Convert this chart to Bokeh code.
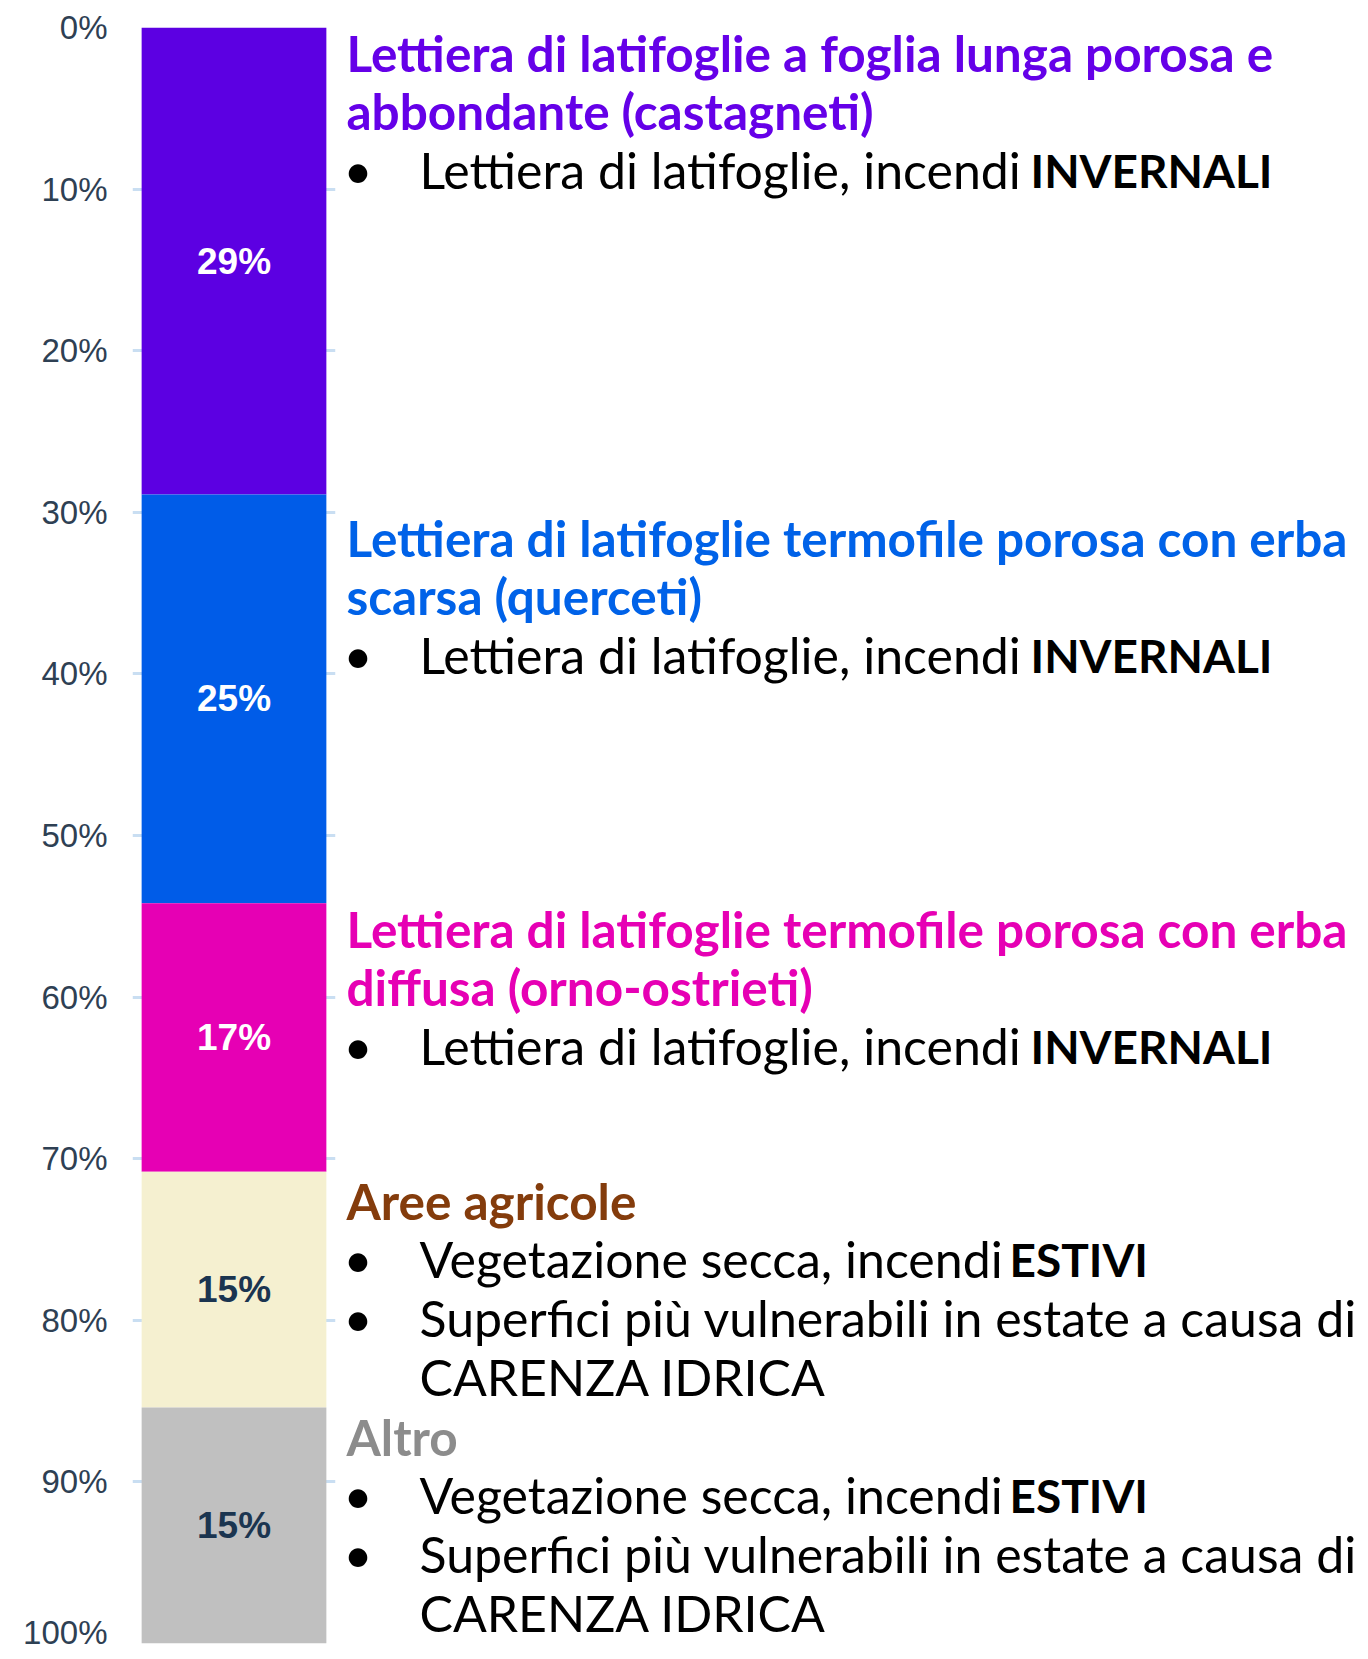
from bokeh.plotting import figure
from bokeh.layouts import row
from bokeh.models import ColumnDataSource, Range1d, FixedTicker, PrintfTickFormatter
from bokeh.core.properties import value
from bokeh.embed import file_html
from bokeh.resources import INLINE

# ---------------- data ----------------
categories = ["Castagneti", "Querceti", "Orno-ostrieti", "Aree agricole", "Altro"]
shares = [28.9, 25.3, 16.6, 14.6, 14.6]          # % (stacked, top to bottom)
share_labels = ["29%", "25%", "17%", "15%", "15%"]
bar_colors = ["#5c00e2", "#005ce8", "#e600b4", "#f5f0d0", "#c0c0c0"]
label_colors = ["#ffffff", "#ffffff", "#ffffff", "#1b3550", "#1b3550"]
y_ticks = [0, 10, 20, 30, 40, 50, 60, 70, 80, 90, 100]

headings = [
    ["Lettiera di latifoglie a foglia lunga porosa e", "abbondante (castagneti)"],
    ["Lettiera di latifoglie termofile porosa con erba", "scarsa (querceti)"],
    ["Lettiera di latifoglie termofile porosa con erba", "diffusa (orno-ostrieti)"],
    ["Aree agricole"],
    ["Altro"],
]
heading_colors = ["#6500e8", "#0062e8", "#e600b4", "#843c0c", "#8c8c8c"]
bullets = [
    [("Lettiera di latifoglie, incendi ", "INVERNALI", None)],
    [("Lettiera di latifoglie, incendi ", "INVERNALI", None)],
    [("Lettiera di latifoglie, incendi ", "INVERNALI", None)],
    [("Vegetazione secca, incendi ", "ESTIVI", None),
     ("Superfici più vulnerabili in estate a causa di", "", "CARENZA IDRICA")],
    [("Vegetazione secca, incendi ", "ESTIVI", None),
     ("Superfici più vulnerabili in estate a causa di", "", "CARENZA IDRICA")],
]

# ---------------- layout (page pixels) ----------------
W, H = 1364, 1650
FRAME_L, FRAME_R, FRAME_T, FRAME_B = 132, 335, 27, 1643
LEFT_W = 338

block_first_y = [52, 537, 928, 1200, 1436]
LINE_STEP = 58.8
HEAD_X = 346
BULLET_X = 343
BODY_X = 419
BOLD_X = {"INVERNALI": 1030, "ESTIVI": 1009}
HEAD_SIZE = "49.5px"
BODY_SIZE = "50px"
BOLD_SIZE = "46px"
FONT = "Lato"

# ---------------- bar figure ----------------
starts, ends = [], []
acc = 0.0
for s in shares:
    starts.append(acc)
    acc += s
    ends.append(acc)
mids = [(a + b) / 2 for a, b in zip(starts, ends)]

src = ColumnDataSource(dict(cat=categories, start=starts, end=ends, mid=mids,
                            color=bar_colors, label=share_labels, lcolor=label_colors,
                            x=[0.5] * len(categories)))

p = figure(width=LEFT_W, height=H, x_range=Range1d(0, 1), y_range=Range1d(100, 0),
           title=None, output_backend="svg", toolbar_location=None, x_axis_location=None,
           min_border_left=FRAME_L, min_border_right=LEFT_W - FRAME_R,
           min_border_top=FRAME_T, min_border_bottom=H - FRAME_B)
p.outline_line_color = None
p.background_fill_color = "white"
p.border_fill_color = "white"

p.vbar(x="x", width=0.91, bottom="start", top="end", fill_color="color",
       line_color=None, source=src)
p.text(x="x", y="mid", text="label", text_color="lcolor", source=src,
       text_font=value("Liberation Sans"), text_font_style="bold",
       text_font_size="37px", text_align="center", text_baseline="middle")

p.yaxis.ticker = FixedTicker(ticks=y_ticks)
p.yaxis.formatter = PrintfTickFormatter(format="%d%%")
p.yaxis.major_label_text_font = "Liberation Sans"
p.yaxis.major_label_text_font_size = "33px"
p.yaxis.major_label_text_color = "#2e4053"
p.yaxis.major_tick_line_color = None
p.yaxis.major_tick_out = 0
p.yaxis.major_tick_in = 0
p.yaxis.minor_tick_line_color = None
p.yaxis.axis_line_color = None
p.yaxis.major_label_standoff = 25
p.ygrid.ticker = FixedTicker(ticks=y_ticks)
p.ygrid.grid_line_color = "#c9def2"
p.ygrid.grid_line_width = 3
p.xgrid.grid_line_color = None

# ---------------- text figure ----------------
reg = dict(x=[], y=[], text=[], color=[])
bld = dict(x=[], y=[], text=[], color=[])
head = dict(x=[], y=[], text=[], color=[])

def put(d, x, y, text, color):
    d["x"].append(x); d["y"].append(y); d["text"].append(text); d["color"].append(color)

for i, lines in enumerate(headings):
    y = block_first_y[i]
    for ln in lines:
        put(head, HEAD_X, y, ln, heading_colors[i])
        y += LINE_STEP
    for txt, bold, cont in bullets[i]:
        put(reg, BULLET_X, y, "•", "#000000")
        put(reg, BODY_X, y, txt, "#000000")
        if bold:
            put(bld, BOLD_X[bold], y, bold, "#000000")
        y += LINE_STEP
        if cont:
            put(reg, BODY_X, y, cont, "#000000")
            y += LINE_STEP

# row layouts align the frames of both figures, so the text frame spans FRAME_T..FRAME_B
t = figure(width=W - LEFT_W, height=H, x_range=Range1d(LEFT_W, W),
           y_range=Range1d(FRAME_B, FRAME_T),
           title=None, output_backend="svg", toolbar_location=None, x_axis_location=None,
           y_axis_location=None, min_border_left=0, min_border_right=0,
           min_border_top=FRAME_T, min_border_bottom=H - FRAME_B)
t.outline_line_color = None
t.grid.grid_line_color = None
t.background_fill_color = "white"
t.border_fill_color = "white"

t.text(x="x", y="y", text="text", text_color="color", source=ColumnDataSource(head),
       text_font=value(FONT), text_font_style="bold", text_font_size=HEAD_SIZE,
       text_align="left", text_baseline="middle")
t.text(x="x", y="y", text="text", text_color="color", source=ColumnDataSource(reg),
       text_font=value(FONT), text_font_style="normal", text_font_size=BODY_SIZE,
       text_align="left", text_baseline="middle")
t.text(x="x", y="y", text="text", text_color="color", source=ColumnDataSource(bld),
       text_font=value(FONT), text_font_style="bold", text_font_size=BOLD_SIZE,
       text_align="left", text_baseline="middle")

layout = row(p, t, spacing=0)
open("out.html", "w").write(file_html(layout, INLINE))
